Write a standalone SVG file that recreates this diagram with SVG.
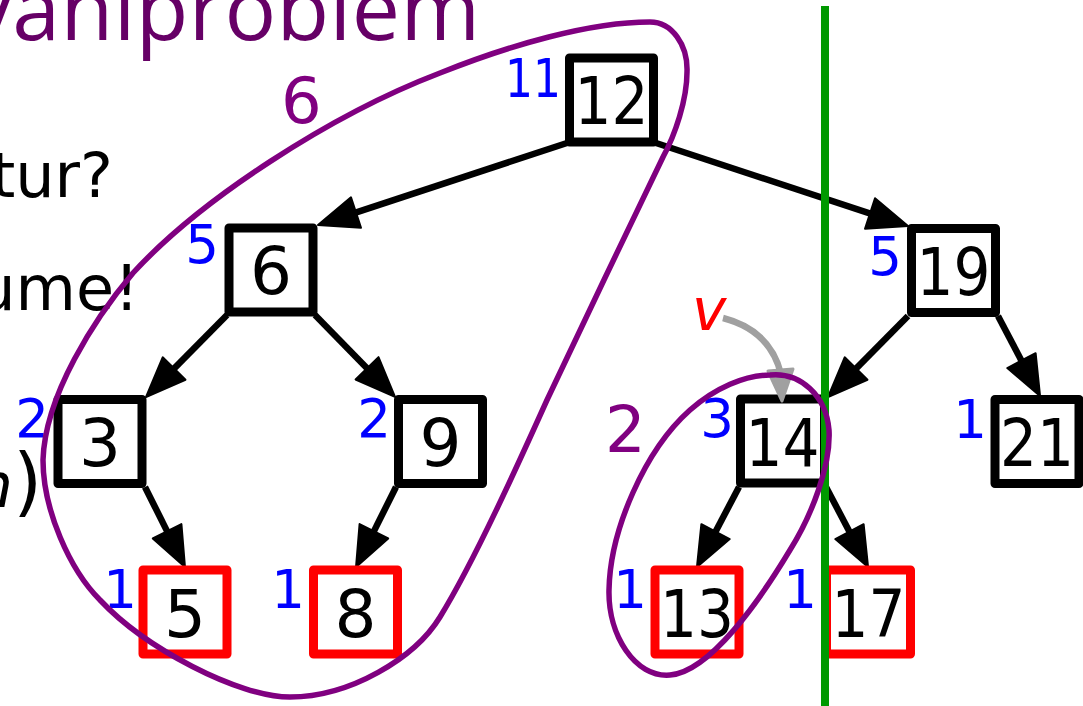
<svg xmlns="http://www.w3.org/2000/svg" width="1083" height="706" viewBox="0 0 1083 706">
<style>
.box{fill:#fff;stroke:#000;stroke-width:9;stroke-linejoin:round}
.leaf{fill:#fff;stroke:#ff0000;stroke-width:9;stroke-linejoin:round}
.num{font-family:"DejaVu Sans",sans-serif;font-size:66px;fill:#000;text-anchor:middle}
.cnt{font-family:"DejaVu Sans",sans-serif;font-size:53px;fill:#0000ff;text-anchor:end}
.grp{font-family:"DejaVu Sans",sans-serif;font-size:64px;fill:#800080}
.side{font-family:"DejaVu Sans",sans-serif;font-size:62px;fill:#000;text-anchor:end}
.edge{fill:none;stroke:#000;stroke-width:6.5;marker-end:url(#ah)}
.loop{fill:none;stroke:#800080;stroke-width:5.5}
</style>
<defs>
<marker id="ah" markerUnits="userSpaceOnUse" markerWidth="46" markerHeight="38" refX="32" refY="18" orient="auto">
<path d="M2,2 L42,18 L2,34 z" fill="#000" stroke="#000" stroke-width="2" stroke-linejoin="round"/>
</marker>
</defs>
<rect width="1083" height="706" fill="#fff"/>
<text x="-31" y="40" font-family="'Open Sans',sans-serif" font-size="86" fill="#660066" textLength="511">vaniproblem</text>
<text class="side" x="113" y="197">tur?</text>
<text class="side" x="139" y="310">ume!</text>
<text class="side" x="42" y="507"><tspan font-style="italic">n</tspan><tspan font-size="74">)</tspan></text>
<g id="connectors">
<path class="edge" d="M567,143 L327.5,221.9"/>
<path class="edge" d="M656,143 L898.5,222.9"/>
<path class="edge" d="M227,315 L153,389.9"/>
<path class="edge" d="M315,315 L388,389.8"/>
<path class="edge" d="M908,316 L835,389.9"/>
<path class="edge" d="M998,316 L1035.4,387.2"/>
<path class="edge" d="M145,487 L180.5,558.1"/>
<path class="edge" d="M396,487 L360.5,558.1"/>
<path class="edge" d="M739,487 L701.6,558.2"/>
<path class="edge" d="M826,487 L863.4,558.2"/>
</g>
<g id="n12"><rect class="box" x="569.5" y="58" width="84" height="84"/><text class="num" x="611.5" y="124" textLength="74" lengthAdjust="spacingAndGlyphs">12</text><text class="cnt" x="561" y="97" textLength="56" lengthAdjust="spacingAndGlyphs">11</text></g>
<g id="n6"><rect class="box" x="229" y="228" width="84" height="84"/><text class="num" x="271" y="294">6</text><text class="cnt" x="219" y="263">5</text></g>
<g id="n19"><rect class="box" x="911.5" y="228.5" width="84" height="84"/><text class="num" x="953.5" y="294.5" textLength="74" lengthAdjust="spacingAndGlyphs">19</text><text class="cnt" x="902" y="275">5</text></g>
<g id="n3"><rect class="box" x="58" y="399.5" width="84" height="84"/><text class="num" x="100" y="466">3</text><text class="cnt" x="49" y="437">2</text></g>
<g id="n9"><rect class="box" x="398.5" y="399.5" width="84" height="84"/><text class="num" x="440.5" y="466">9</text><text class="cnt" x="391" y="437">2</text></g>
<g id="n14"><rect class="box" x="740.5" y="399" width="84" height="84"/><text class="num" x="782.5" y="465.5" textLength="74" lengthAdjust="spacingAndGlyphs">14</text><text class="cnt" x="734" y="437">3</text></g>
<g id="n21"><rect class="box" x="995" y="399.5" width="84" height="84"/><text class="num" x="1037" y="466" textLength="74" lengthAdjust="spacingAndGlyphs">21</text><text class="cnt" x="987" y="438">1</text></g>
<g id="n5"><rect class="leaf" x="143" y="570" width="84" height="84"/><text class="num" x="185" y="636.5">5</text><text class="cnt" x="137" y="608">1</text></g>
<g id="n8"><rect class="leaf" x="313.5" y="570" width="84" height="84"/><text class="num" x="355.5" y="636.5">8</text><text class="cnt" x="305" y="608">1</text></g>
<g id="n13"><rect class="leaf" x="655" y="570" width="84" height="84"/><text class="num" x="697" y="636.5" textLength="74" lengthAdjust="spacingAndGlyphs">13</text><text class="cnt" x="647" y="608">1</text></g>
<g id="n17"><rect class="leaf" x="826.5" y="570" width="84" height="84"/><text class="num" x="868.5" y="636.5" textLength="74" lengthAdjust="spacingAndGlyphs">17</text><text class="cnt" x="817" y="608">1</text></g>
<g id="sweepline"><line x1="825" y1="6" x2="825" y2="706" stroke="#009900" stroke-width="8"/></g>
<g id="pointer">
<text x="692" y="330" font-family="'DejaVu Sans',sans-serif" font-style="italic" font-size="58" fill="#ff0000">v</text>
<path d="M723,318 Q770,330 781,374" fill="none" stroke="#a0a0a0" stroke-width="6.5"/>
<polygon points="768,371 793,369 782,401" fill="#a0a0a0" stroke="#a0a0a0" stroke-width="3" stroke-linejoin="round"/>
</g>
<g id="group6">
<path class="loop" d="M650,22 C672,22 688,45 687,72 C687,100 675,135 663,157 C635,215 575,340 547,400 C520,460 475,560 440,617 C415,658 350,697 290,697 C238,697 145,648 100,600 C70,570 43,510 43,460 C45,395 95,318 133,273 C200,200 330,115 440,73 C510,45 590,22 650,22 Z"/>
<text class="grp" x="281" y="123">6</text>
</g>
<g id="group2">
<path class="loop" d="M770,375 C800,372 826,395 829,430 C831,465 812,515 790,550 C760,600 710,672 670,675 C635,678 608,635 609,590 C610,530 645,450 690,410 C715,388 745,375 770,375 Z"/>
<text class="grp" x="605" y="452" font-size="66">2</text>
</g>
</svg>
